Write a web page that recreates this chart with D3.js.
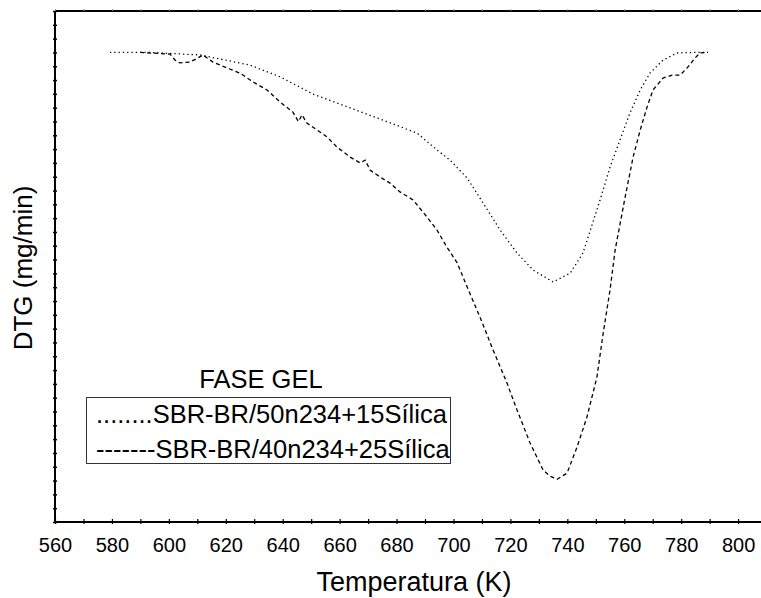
<!DOCTYPE html>
<html>
<head>
<meta charset="utf-8">
<script src="https://cdn.jsdelivr.net/npm/d3@7"></script>
<style>
  body { margin: 0; background: #fff; }
  text { font-family: Arial, "Liberation Sans", sans-serif; fill: #000; }
</style>
</head>
<body>
<div id="chart"></div>
<script>
// DTG curves, gel phase
const tempA = [579.3, 593.4, 611, 628.5, 639, 650.7, 663.7, 675.2, 687.2, 694.2, 698.8, 704.8, 710.4, 716.4, 722.3, 728, 735, 741, 745.5, 751.5, 755, 758.5, 762, 765.6, 769, 773.6, 778.5, 784.2, 789.4];
const dtgA  = [0, 0, -0.009, -0.046, -0.088, -0.151, -0.201, -0.245, -0.292, -0.353, -0.39, -0.455, -0.545, -0.643, -0.726, -0.788, -0.831, -0.799, -0.726, -0.534, -0.415, -0.317, -0.219, -0.136, -0.075, -0.028, -0.002, 0, 0];

const tempB = [589.9, 600.4, 602.2, 603.9, 607.4, 610.2, 612, 615.5, 620.4, 625, 629.6, 634.5, 639.1, 643.6, 645.5, 646.8, 648.5, 652.1, 655.6, 659.1, 663.7, 667.2, 669, 670.7, 674.2, 677.7, 681.2, 685.8, 690.7, 694.2, 697.7, 701.3, 704.8, 709.3, 713.9, 718.8, 722.3, 726.9, 731.5, 733.9, 736.4, 739.9, 743.4, 746.9, 750.4, 752.6, 755, 756.8, 760.3, 763.1, 765.6, 768, 770.1, 773.6, 776.8, 779.6, 782.1, 784.9, 786.6, 789.4];
const dtgB  = [0, -0.006, -0.028, -0.038, -0.035, -0.02, -0.009, -0.035, -0.056, -0.075, -0.107, -0.136, -0.18, -0.216, -0.25, -0.226, -0.256, -0.281, -0.306, -0.343, -0.379, -0.4, -0.39, -0.426, -0.451, -0.473, -0.505, -0.534, -0.596, -0.643, -0.705, -0.762, -0.849, -0.958, -1.077, -1.197, -1.294, -1.414, -1.512, -1.534, -1.545, -1.523, -1.429, -1.32, -1.175, -1.016, -0.86, -0.715, -0.524, -0.379, -0.281, -0.198, -0.136, -0.093, -0.082, -0.082, -0.056, -0.02, -0.002, 0];

const xTicks = d3.range(560, 801, 10);
const yTicks = d3.range(-1.7, 0.151, 0.05);
const legendTitle = "FASE GEL";
const legendLines = ["........SBR-BR/50n234+15Sílica", "-------SBR-BR/40n234+25Sílica"];

const W = 761, H = 598;
const mLeft = 55, mTop = 11, mRight = 770, mBottom = 522;

const svg = d3.select("#chart").append("svg")
  .attr("width", W)
  .attr("height", H);

svg.append("rect").attr("width", W).attr("height", H).attr("fill", "#fff");

const x = d3.scaleLinear().domain([560, 811.2]).range([mLeft, mRight]);
const y = d3.scaleLinear().domain([-1.7, 0.15]).range([mBottom, mTop]);

// frame top
svg.append("line").attr("x1", mLeft).attr("x2", mRight).attr("y1", mTop).attr("y2", mTop)
  .attr("stroke", "#000").attr("stroke-width", 2);

// bottom axis
const gx = svg.append("g")
  .attr("transform", `translate(0,${mBottom})`)
  .call(d3.axisBottom(x).tickValues(xTicks).tickSizeOuter(0).tickSize(3)
    .tickFormat(d => d % 20 === 0 ? d : ""));
gx.select(".domain").attr("stroke-width", 2).attr("d", `M${mLeft},0H${mRight}`);
gx.selectAll(".tick line").attr("y1", -3).attr("y2", 2).attr("stroke-width", 1.2);
gx.selectAll(".tick text")
  .attr("y", 30).attr("dy", 0)
  .attr("font-size", 20)
  .attr("font-family", "Arial, 'Liberation Sans', sans-serif");

// top ticks
const gt = svg.append("g")
  .attr("transform", `translate(0,${mTop})`)
  .call(d3.axisTop(x).tickValues(xTicks).tickSize(2).tickFormat(""));
gt.select(".domain").remove();
gt.selectAll(".tick line").attr("stroke", "#999");

// left axis
const gy = svg.append("g")
  .attr("transform", `translate(${mLeft},0)`)
  .call(d3.axisLeft(y).tickValues(yTicks).tickSizeOuter(0).tickSize(2).tickFormat(""));
gy.select(".domain").attr("stroke-width", 2).attr("d", `M0,${mTop}V${mBottom}`);
gy.selectAll(".tick line").attr("x1", 2).attr("x2", -2).attr("stroke-width", 1.5);

// curves
const line = d3.line().x(d => x(d[0])).y(d => y(d[1]));

svg.append("path")
  .datum(tempA.map((t, i) => [t, dtgA[i]]))
  .attr("d", line)
  .attr("fill", "none")
  .attr("stroke", "#000")
  .attr("stroke-width", 1.3)
  .attr("stroke-dasharray", "1.3,3");

svg.append("path")
  .datum(tempB.map((t, i) => [t, dtgB[i]]))
  .attr("d", line)
  .attr("fill", "none")
  .attr("stroke", "#000")
  .attr("stroke-width", 1.3)
  .attr("stroke-dasharray", "4,3");

// legend
svg.append("text")
  .attr("x", 261).attr("y", 388)
  .attr("text-anchor", "middle")
  .attr("font-size", 25.5)
  .text(legendTitle);

svg.append("rect")
  .attr("x", 86.5).attr("y", 397.5)
  .attr("width", 364).attr("height", 66)
  .attr("fill", "none")
  .attr("stroke", "#333")
  .attr("stroke-width", 1);

svg.selectAll(".leg")
  .data(legendLines)
  .enter()
  .append("text")
  .attr("class", "leg")
  .attr("x", 96)
  .attr("y", (d, i) => 423 + i * 34.5)
  .attr("font-size", 25.5)
  .text(d => d);

// axis titles
svg.append("text")
  .attr("x", 414).attr("y", 591)
  .attr("text-anchor", "middle")
  .attr("font-size", 27)
  .text("Temperatura (K)");

svg.append("text")
  .attr("transform", "translate(32,268) rotate(-90)")
  .attr("text-anchor", "middle")
  .attr("font-size", 26)
  .text("DTG (mg/min)");
</script>
</body>
</html>
